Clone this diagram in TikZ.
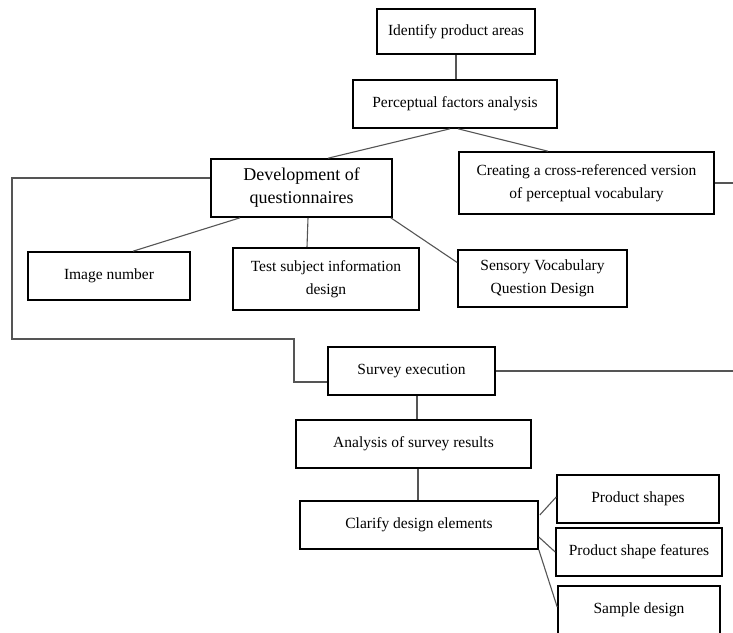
\documentclass[tikz,border=0pt]{standalone}
\usepackage{fontspec}
\setmainfont{Liberation Serif}
\usetikzlibrary{positioning, calc}
\definecolor{dgray}{RGB}{85,85,85}
\tikzset{
    procbox/.style={rectangle, draw=black, line width=1.6pt, align=center, inner sep=0pt, font=\fontsize{15.5}{23}\selectfont},
    link/.style={draw=dgray, line width=1.1pt},
}

\begin{document}
\begin{tikzpicture}[
    x=1pt, y=-1pt,
    bigbox/.style={procbox, font=\fontsize{18}{23}\selectfont},
]
\useasboundingbox (0,0) rectangle (733,632);

% Top: product areas and perceptual analysis
\node[procbox, minimum width=158, minimum height=45] (ident) at (456,31.5) {Identify product areas};
\node[procbox, minimum width=204, minimum height=48] (percep) at (455,104) {Perceptual factors analysis};

% Second row
\node[bigbox, minimum width=181, minimum height=58] (devq) at (301.5,188) {Development of\\questionnaires};
\node[procbox, minimum width=255, minimum height=62] (cross) at (586.5,183) {Creating a cross-referenced version\\of perceptual vocabulary};

% Questionnaire parts
\node[procbox, minimum width=162, minimum height=48] (imgnum) at (109,276) {Image number};
\node[procbox, minimum width=186, minimum height=62] (subj) at (326,279) {Test subject information\\design};
\node[procbox, minimum width=169, minimum height=57] (sensory) at (542.5,278.5) {Sensory Vocabulary\\Question Design};

% Survey and results
\node[procbox, minimum width=167, minimum height=48] (survey) at (411.5,371) {Survey execution};
\node[procbox, minimum width=235, minimum height=48] (results) at (413.5,444) {Analysis of survey results};
\node[procbox, minimum width=238, minimum height=48] (clarify) at (419,525) {Clarify design elements};

% Design elements
\node[procbox, minimum width=162, minimum height=48] (shapes) at (638,499) {Product shapes};
\node[procbox, minimum width=166, minimum height=48] (features) at (639,552) {Product shape features};
\node[procbox, minimum width=162, minimum height=48] (sample) at (639,610) {Sample design};

% Loop back from questionnaires to survey
\coordinate (loopL) at (12,339);
\coordinate (loopM) at (294,339);

% Connectors
\draw[link] (ident.south) -- (ident.south |- percep.north);
\draw[link] ($(percep.south)+(-5,0)$) -- ($(devq.north)+(26.5,0)$);
\draw[link] ($(percep.south)+(3,0)$) -- ($(cross.north)+(-38.5,0)$);
\draw[link] (cross.east) -- ++(19,0);
\draw[link] ($(devq.south)+(-61.5,0)$) -- ($(imgnum.north)+(24,0)$);
\draw[link] ($(devq.south)+(6.5,0)$) -- ($(subj.north)+(-19,0)$);
\draw[link] ($(devq.south east)+(-2,0)$) -- ($(sensory.west)+(0,-16)$);
\draw[link] ($(devq.west)+(0,-10)$) -| (loopL) -- (loopM) |- ($(survey.west)+(0,11)$);
\draw[link] (survey.east) -- ++(238,0);
\draw[link] ($(survey.south)+(5.5,0)$) -- ($(results.north)+(3.5,0)$);
\draw[link] ($(results.south)+(4.5,0)$) -- ($(clarify.north)+(-1,0)$);
\draw[link] ($(clarify.east)+(1,-10)$) -- ($(shapes.west)+(0,-2)$);
\draw[link] ($(clarify.east)+(0,12)$) -- (features.west);
\draw[link] ($(clarify.south east)+(0,0)$) -- ($(sample.west)+(0,-3)$);

\end{tikzpicture}
\end{document}
